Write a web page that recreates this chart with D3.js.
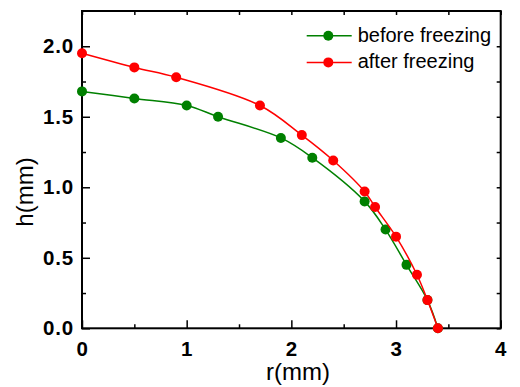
<!DOCTYPE html>
<html>
<head>
<meta charset="utf-8">
<script src="https://cdn.jsdelivr.net/npm/d3@7/dist/d3.min.js"></script>
<style>
  html, body { margin: 0; padding: 0; background: #fff; }
  svg { display: block; font-family: "Liberation Sans", Arial, Helvetica, sans-serif; }
</style>
</head>
<body>
<svg id="chart" width="520" height="387"></svg>
<script>
// Droplet profile: height h versus radius r, before and after freezing
const rBefore = [0, 0.5, 1.0, 1.3, 1.9, 2.2, 2.7, 2.9, 3.1, 3.3, 3.4];
const hBefore = [1.68, 1.63, 1.58, 1.50, 1.35, 1.21, 0.90, 0.70, 0.45, 0.20, 0.0];
const rAfter = [0, 0.5, 0.9, 1.7, 2.1, 2.4, 2.7, 2.8, 3.0, 3.2, 3.3, 3.4];
const hAfter = [1.95, 1.85, 1.78, 1.58, 1.37, 1.19, 0.97, 0.86, 0.65, 0.38, 0.20, 0.0];
const seriesNames = ["before freezing", "after freezing"];
const seriesColors = ["#008000", "#ff0000"];
const xTicks = [0, 1, 2, 3, 4];
const yTicks = [0, 0.5, 1.0, 1.5, 2.0];
const xMinorTicks = [0.5, 1.5, 2.5, 3.5];
const yMinorTicks = [0.25, 0.75, 1.25, 1.75];

const series = [
  { name: seriesNames[0], color: seriesColors[0], pts: rBefore.map((r, i) => [r, hBefore[i]]) },
  { name: seriesNames[1], color: seriesColors[1], pts: rAfter.map((r, i) => [r, hAfter[i]]) }
];

const svg = d3.select("#chart");
const L = 82, R = 500.7, T = 11, B = 328.3;

const x = d3.scaleLinear().domain([0, 4]).range([L, R]);
const y = d3.scaleLinear().domain([0, 2.25]).range([B, T]);

// Axes: ticks point into the plot on all four sides
const fmtY = d3.format(".1f");
const fmtX = d3.format("d");

const gx = svg.append("g").attr("transform", `translate(0,${B})`)
  .call(d3.axisBottom(x).tickValues(xTicks).tickFormat(fmtX).tickSizeInner(-8).tickSizeOuter(0).tickPadding(13));
svg.append("g").attr("transform", `translate(0,${B})`)
  .call(d3.axisBottom(x).tickValues(xMinorTicks).tickFormat("").tickSizeInner(-4).tickSizeOuter(0));

const gy = svg.append("g").attr("transform", `translate(${L},0)`)
  .call(d3.axisLeft(y).tickValues(yTicks).tickFormat(fmtY).tickSizeInner(-8).tickSizeOuter(0).tickPadding(8));
svg.append("g").attr("transform", `translate(${L},0)`)
  .call(d3.axisLeft(y).tickValues(yMinorTicks).tickFormat("").tickSizeInner(-4).tickSizeOuter(0));

svg.append("g").attr("transform", `translate(0,${T})`)
  .call(d3.axisTop(x).tickValues(xTicks.concat(xMinorTicks)).tickFormat("").tickSizeInner(-4).tickSizeOuter(0));
svg.append("g").attr("transform", `translate(${R},0)`)
  .call(d3.axisRight(y).tickValues(yTicks.concat(yMinorTicks)).tickFormat("").tickSizeInner(-4).tickSizeOuter(0));

svg.selectAll(".domain").remove();
svg.selectAll(".tick line").attr("stroke", "#000").attr("stroke-width", 1.5);

// Plot frame
svg.append("rect")
  .attr("x", L).attr("y", T).attr("width", R - L).attr("height", B - T)
  .attr("fill", "none").attr("stroke", "#000").attr("stroke-width", 2);

[gx, gy].forEach(g => g.selectAll(".tick text")
  .attr("font-size", 20.5).attr("font-weight", "bold").attr("fill", "#000")
  .attr("letter-spacing", 0.8)
  .attr("font-family", "Liberation Sans, Arial, sans-serif"));

// Curves and markers
const line = d3.line()
  .x(d => x(d[0])).y(d => y(d[1]))
  .curve(d3.curveCatmullRom.alpha(0.5));

series.forEach(s => {
  svg.append("path").datum(s.pts)
    .attr("d", line)
    .attr("fill", "none").attr("stroke", s.color).attr("stroke-width", 1.5);
  svg.append("g").selectAll("circle").data(s.pts).join("circle")
    .attr("cx", d => x(d[0])).attr("cy", d => y(d[1])).attr("r", 5)
    .attr("fill", s.color);
});

// Axis titles
svg.append("text")
  .attr("x", 298).attr("y", 380)
  .attr("text-anchor", "middle").attr("font-size", 24).attr("fill", "#000")
  .text("r(mm)");
svg.append("text")
  .attr("transform", "translate(33,192) rotate(-90)")
  .attr("text-anchor", "middle").attr("font-size", 24).attr("fill", "#000")
  .text("h(mm)");

// Legend
const legend = svg.append("g");
series.forEach((s, i) => {
  const ly = 35.7 + i * 26.7;
  legend.append("line")
    .attr("x1", 306.7).attr("x2", 351.7).attr("y1", ly).attr("y2", ly)
    .attr("stroke", s.color).attr("stroke-width", 1.5);
  legend.append("circle")
    .attr("cx", 328.3).attr("cy", ly).attr("r", 5).attr("fill", s.color);
  legend.append("text")
    .attr("x", 357.7).attr("y", ly + 5.8)
    .attr("font-size", 20).attr("fill", "#000")
    .text(s.name);
});
</script>
</body>
</html>
